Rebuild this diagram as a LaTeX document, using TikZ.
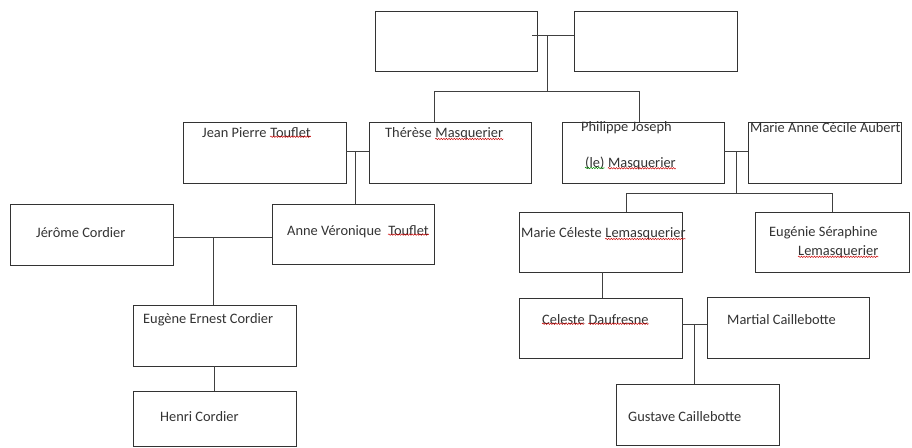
\documentclass[tikz,border=0pt]{standalone}
\usepackage{fontspec}
\setmainfont{Carlito}
\usetikzlibrary{decorations.pathmorphing}
\begin{document}
\begin{tikzpicture}[x=1pt,y=-1pt,
  box/.style={draw=black!80,line width=0.9pt,anchor=north west,inner sep=0pt,outer sep=0pt},
  lbl/.style={anchor=west,inner sep=0pt,text=black!80,font=\fontsize{14.4}{16}\selectfont},
  wrd/.style={lbl,anchor=base west},
  link/.style={draw=black!75,line width=0.9pt},
  squig/.style={draw=#1,line width=0.45pt,decorate,decoration={snake,amplitude=0.75pt,segment length=2.6pt}},
  squig/.default={red!80!black}]
\useasboundingbox[fill=white] (0,0) rectangle (912,447);
% boxes
\node[box,minimum width=162pt,minimum height=60pt] (L0) at (375,11) {};
\node[box,minimum width=163pt,minimum height=60pt] (R0) at (574,11) {};
\node[box,minimum width=163pt,minimum height=61pt] (JP) at (183,122) {};
\node[box,minimum width=162pt,minimum height=61pt] (TM) at (369,122) {};
\node[box,minimum width=162pt,minimum height=61pt] (PJ) at (562,122) {};
\node[box,minimum width=153pt,minimum height=61pt] (MA) at (748,122) {};
\node[box,minimum width=163pt,minimum height=61pt] (JC) at (10,204) {};
\node[box,minimum width=162pt,minimum height=60pt] (AV) at (272,204) {};
\node[box,minimum width=163pt,minimum height=60pt] (MC) at (519,212) {};
\node[box,minimum width=154pt,minimum height=60pt] (ES) at (755,212) {};
\node[box,minimum width=163pt,minimum height=61pt] (EE) at (133,305) {};
\node[box,minimum width=163pt,minimum height=60pt] (CD) at (519,298) {};
\node[box,minimum width=162pt,minimum height=61pt] (MK) at (707,297) {};
\node[box,minimum width=163pt,minimum height=55pt] (HC) at (133,391) {};
\node[box,minimum width=163pt,minimum height=61pt] (GC) at (616,384) {};
% texts
\node[lbl] (tJP) at (202,133) {Jean Pierre};
\node[wrd] (wJP) at ([xshift=3.3pt]tJP.base east) {Touflet};
\node[lbl] (tTM) at (385,133) {Thérèse};
\node[wrd] (wTM) at ([xshift=3.3pt]tTM.base east) {Masquerier};
\node[lbl] (tPJ1) at (581,128) {Philippe Joseph};
\node[lbl] (tPJ2) at (585,163) {(le)};
\node[wrd] (wPJ) at ([xshift=3.3pt]tPJ2.base east) {Masquerier};
\node[lbl] (tMA) at (750,128) {Marie Anne Cécile Aubert};
\node[lbl] (tJC) at (36,233) {Jérôme Cordier};
\node[lbl] (tAV) at (287,232) {Anne Véronique};
\node[wrd] (wAV) at ([xshift=6.6pt]tAV.base east) {Touflet};
\node[lbl] (tMC) at (521,233) {Marie Céleste};
\node[wrd] (wMC) at ([xshift=3.3pt]tMC.base east) {Lemasquerier};
\node[lbl] (tES1) at (769,233) {Eugénie Séraphine};
\node[lbl] (tES2) at (798,252) {Lemasquerier};
\node[lbl] (tEE) at (143,320) {Eugène Ernest Cordier};
\node[lbl] (tCD) at (542,320) {Celeste};
\node[wrd] (wCD) at ([xshift=3.3pt]tCD.base east) {Daufresne};
\node[lbl] (tMK) at (727,320) {Martial Caillebotte};
\node[lbl] (tHC) at (160,417) {Henri Cordier};
\node[lbl] (tGC) at (628,417) {Gustave Caillebotte};
% spell-check squiggles
\foreach \w in {wJP,wTM,wPJ,wAV,wMC,tES2,tCD,wCD}
  \draw[squig] ([yshift=1.5pt]\w.south west) -- ([yshift=1.5pt]\w.south east);
\draw[squig=green!55!black] ([yshift=1.5pt]tPJ2.south west) -- ([yshift=1.5pt]tPJ2.south east);
% connector points
\coordinate (m0) at (547,35);
\coordinate (b0) at (547,91);
\coordinate (b0l) at (434,91);
\coordinate (b0r) at (639,91);
\coordinate (m1) at (355,151);
\coordinate (m2) at (736,151);
\coordinate (b2) at (736,193);
\coordinate (b2l) at (626,193);
\coordinate (b2r) at (832,193);
\coordinate (m3) at (213,237);
\coordinate (m4) at (694,324);
\coordinate (d1) at (214,0);
\coordinate (d2) at (602,0);
% top couple
\draw[link] (L0.east |- m0) ++(-5,0) -- (R0.west |- m0);
\draw[link] (m0) -- (b0);
\draw[link] (b0l) -- (b0r);
\draw[link] (b0l) -- (b0l |- TM.north);
\draw[link] (b0r) -- (b0r |- PJ.north);
% Touflet - Masquerier
\draw[link] (JP.east |- m1) -- (TM.west |- m1);
\draw[link] (m1) -- (m1 |- AV.north);
% Masquerier - Aubert
\draw[link] (PJ.east |- m2) -- (MA.west |- m2);
\draw[link] (m2) -- (b2);
\draw[link] (b2l) -- (b2r);
\draw[link] (b2l) -- (b2l |- MC.north);
\draw[link] (b2r) -- (b2r |- ES.north);
% Cordier - Touflet
\draw[link] (JC.east |- m3) -- (AV.west |- m3);
\draw[link] (m3) -- (m3 |- EE.north);
% descendants
\draw[link] (d1 |- EE.south) -- (d1 |- HC.north);
\draw[link] (d2 |- MC.south) -- (d2 |- CD.north);
% Daufresne - Caillebotte
\draw[link] (CD.east |- m4) -- (MK.west |- m4);
\draw[link] (m4) -- (m4 |- GC.north);
\end{tikzpicture}
\end{document}
